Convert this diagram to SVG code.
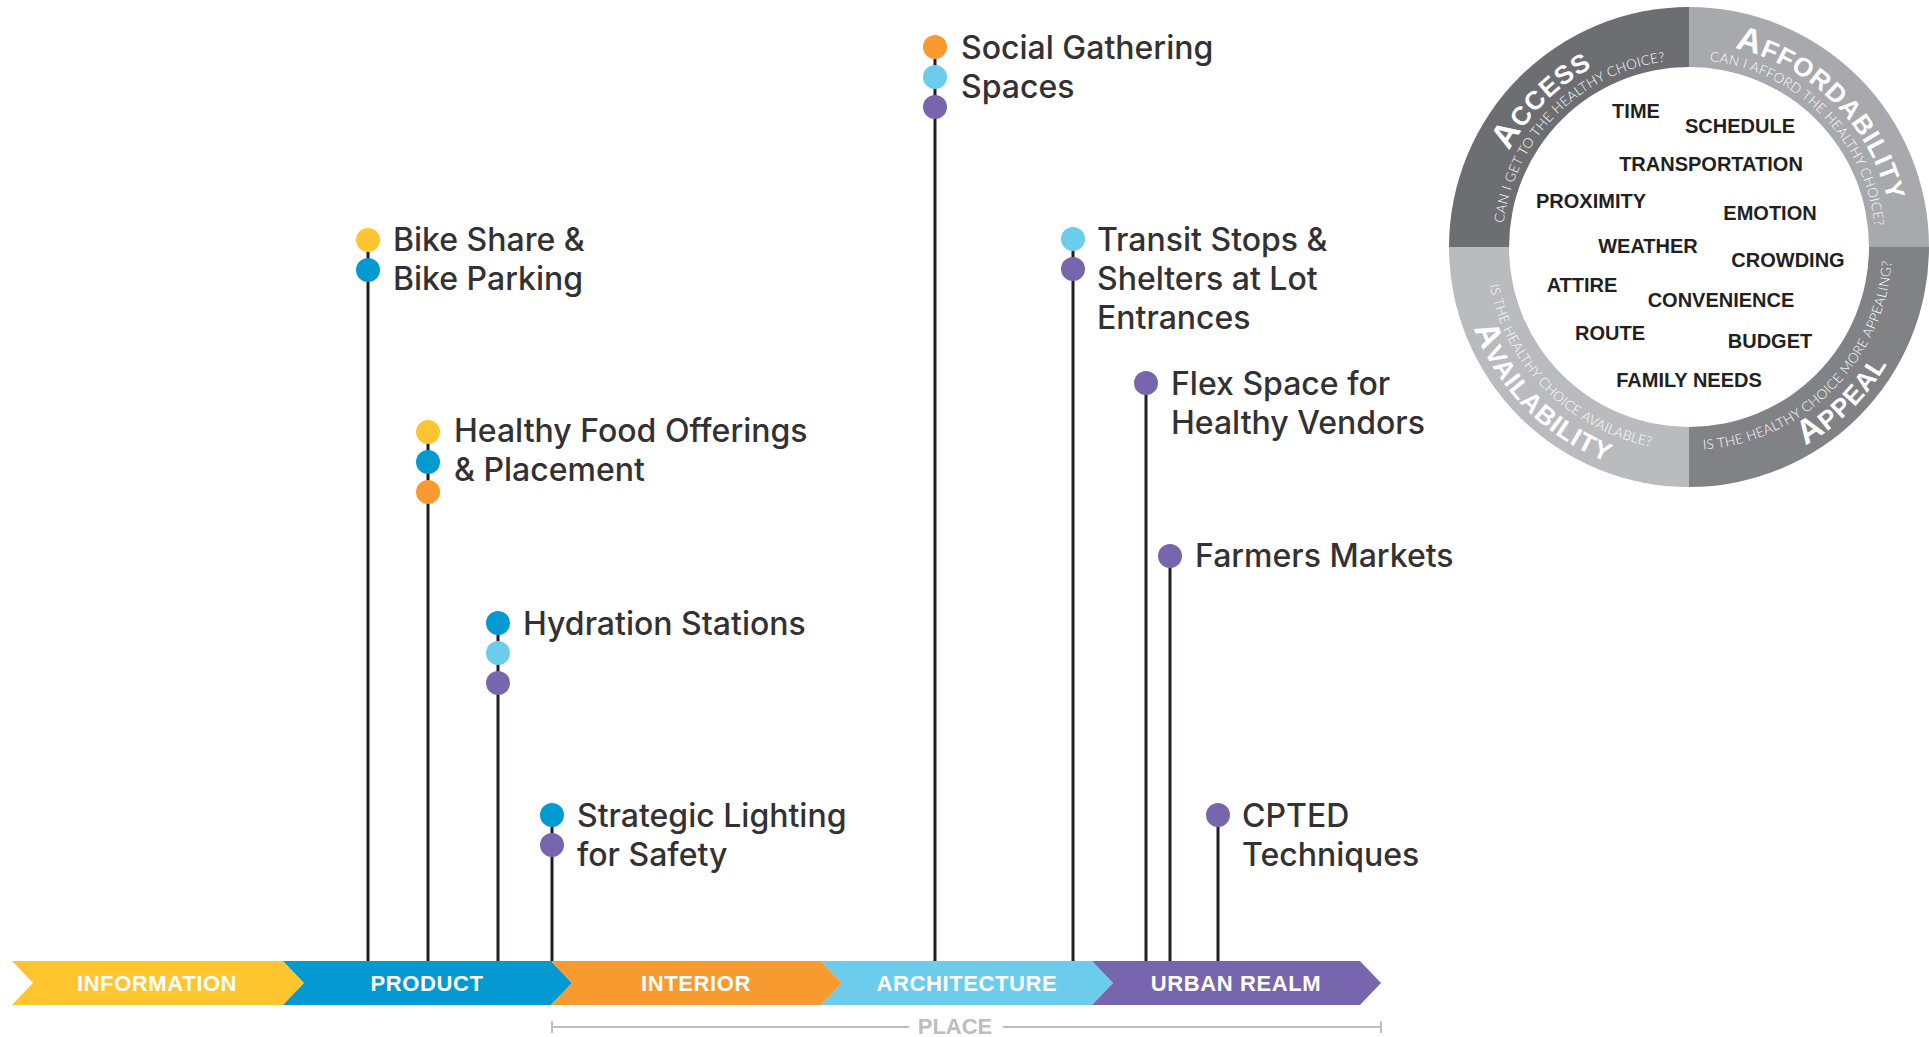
<svg xmlns="http://www.w3.org/2000/svg" width="1929" height="1037" viewBox="0 0 1929 1037">
<style>
.lbl{font-family:Inter,"Noto Sans","Liberation Sans",sans-serif;font-weight:500;font-size:32px;fill:#333132}
.stem{stroke:#231f20;stroke-width:3;fill:none}
.y{fill:#fdc52f}.b{fill:#0399d1}.o{fill:#f79a2f}.c{fill:#6bcdeb}.p{fill:#7766ad}
.rib{font-family:"Liberation Sans",Arial,sans-serif;font-weight:bold;font-size:22px;fill:#ffffff;text-anchor:middle;letter-spacing:0.6px}
.word{font-family:"Liberation Sans",Arial,sans-serif;font-weight:bold;font-size:20px;fill:#231f20;text-anchor:middle}
.big{font-family:"Liberation Sans",Arial,sans-serif;font-weight:bold;fill:#ffffff;font-size:26px;letter-spacing:1px}
.big .cap{font-size:34px}
.sub{font-family:Lato,"Liberation Sans",Arial,sans-serif;font-weight:300;font-size:13.5px;fill:#ffffff;letter-spacing:0.3px}
</style>
<defs>
<path id="tAccS" d="M1502,247 A187,187 0 0 1 1689,60"/>
<path id="tAffS" d="M1689,60 A187,187 0 0 1 1876,247"/>
<path id="tAccB" d="M1485,247 A204,204 0 0 1 1689,43"/>
<path id="tAffB" d="M1689,43 A204,204 0 0 1 1893,247"/>
<path id="tAvaS" d="M1486,247 A203,203 0 0 0 1689,450"/>
<path id="tAppS" d="M1689,450 A203,203 0 0 0 1892,247"/>
<path id="tAvaB" d="M1459,247 A230,230 0 0 0 1689,477"/>
<path id="tAppB" d="M1689,477 A230,230 0 0 0 1919,247"/>
</defs>
<rect width="1929" height="1037" fill="#ffffff"/>

<g id="connectors">
<line class="stem" x1="368" y1="240" x2="368" y2="962"/>
<line class="stem" x1="428" y1="432" x2="428" y2="962"/>
<line class="stem" x1="498" y1="623" x2="498" y2="962"/>
<line class="stem" x1="552" y1="815" x2="552" y2="962"/>
<line class="stem" x1="935" y1="47" x2="935" y2="962"/>
<line class="stem" x1="1073" y1="239" x2="1073" y2="962"/>
<line class="stem" x1="1146" y1="383" x2="1146" y2="962"/>
<line class="stem" x1="1170" y1="556" x2="1170" y2="962"/>
<line class="stem" x1="1218" y1="815" x2="1218" y2="962"/>
</g>

<g id="ribbon">
<g id="seg-information"><polygon points="12,961 283,961 304,983 283,1005 12,1005 33,983" fill="#fec52e"/><text class="rib" x="157" y="991">INFORMATION</text></g>
<g id="seg-product"><polygon points="283,961 551,961 572,983 551,1005 283,1005 304,983" fill="#049ad1"/><text class="rib" x="427" y="991">PRODUCT</text></g>
<g id="seg-interior"><polygon points="551,961 821,961 842,983 821,1005 551,1005 572,983" fill="#f79a2f"/><text class="rib" x="696" y="991">INTERIOR</text></g>
<g id="seg-architecture"><polygon points="821,961 1092,961 1113,983 1092,1005 821,1005 842,983" fill="#6bcdeb"/><text class="rib" x="967" y="991">ARCHITECTURE</text></g>
<g id="seg-urban"><polygon points="1092,961 1360,961 1381,983 1360,1005 1092,1005 1113,983" fill="#7766ad"/><text class="rib" x="1236" y="991">URBAN REALM</text></g>
</g>

<g id="place">
<path d="M552,1021 V1033 M552,1027 H909 M1003,1027 H1381 M1381,1021 V1033" stroke="#bcbec0" stroke-width="2" fill="none"/>
<text x="955" y="1034" font-family="Liberation Sans, Arial, sans-serif" font-weight="bold" font-size="22" fill="#bcbec0" text-anchor="middle">PLACE</text>
</g>

<g id="n-bike"><circle class="y" cx="368" cy="240" r="12"/><circle class="b" cx="368" cy="270" r="12"/>
<text class="lbl" x="393" y="251">Bike Share &amp;</text><text class="lbl" x="393" y="290">Bike Parking</text></g>
<g id="n-food"><circle class="y" cx="428" cy="432" r="12"/><circle class="b" cx="428" cy="462" r="12"/><circle class="o" cx="428" cy="492" r="12"/>
<text class="lbl" x="454" y="442">Healthy Food Offerings</text><text class="lbl" x="454" y="481">&amp; Placement</text></g>
<g id="n-hydration"><circle class="b" cx="498" cy="623" r="12"/><circle class="c" cx="498" cy="653" r="12"/><circle class="p" cx="498" cy="683" r="12"/>
<text class="lbl" x="523" y="635">Hydration Stations</text></g>
<g id="n-lighting"><circle class="b" cx="552" cy="815" r="12"/><circle class="p" cx="552" cy="845" r="12"/>
<text class="lbl" x="577" y="827">Strategic Lighting</text><text class="lbl" x="577" y="866">for Safety</text></g>
<g id="n-social"><circle class="o" cx="935" cy="47" r="12"/><circle class="c" cx="935" cy="77" r="12"/><circle class="p" cx="935" cy="107" r="12"/>
<text class="lbl" x="961" y="59">Social Gathering</text><text class="lbl" x="961" y="98">Spaces</text></g>
<g id="n-transit"><circle class="c" cx="1073" cy="239" r="12"/><circle class="p" cx="1073" cy="269" r="12"/>
<text class="lbl" x="1097" y="251">Transit Stops &amp;</text><text class="lbl" x="1097" y="290">Shelters at Lot</text><text class="lbl" x="1097" y="329">Entrances</text></g>
<g id="n-flex"><circle class="p" cx="1146" cy="383" r="12"/>
<text class="lbl" x="1171" y="395">Flex Space for</text><text class="lbl" x="1171" y="434">Healthy Vendors</text></g>
<g id="n-farmers"><circle class="p" cx="1170" cy="556" r="12"/>
<text class="lbl" x="1195" y="567">Farmers Markets</text></g>
<g id="n-cpted"><circle class="p" cx="1218" cy="815" r="12"/>
<text class="lbl" x="1242" y="827">CPTED</text><text class="lbl" x="1242" y="866">Techniques</text></g>

<g id="wheel">
<path d="M1449,247 A240,240 0 0 1 1689,7 L1689,67 A180,180 0 0 0 1509,247 Z" fill="#6d6e71"/>
<path d="M1689,7 A240,240 0 0 1 1929,247 L1869,247 A180,180 0 0 0 1689,67 Z" fill="#a7a9ac"/>
<path d="M1929,247 A240,240 0 0 1 1689,487 L1689,427 A180,180 0 0 0 1869,247 Z" fill="#808285"/>
<path d="M1689,487 A240,240 0 0 1 1449,247 L1509,247 A180,180 0 0 0 1689,427 Z" fill="#b9bbbe"/>
<text class="big"><textPath href="#tAccB" startOffset="50%" text-anchor="middle"><tspan class="cap">A</tspan>CCESS</textPath></text>
<text class="sub"><textPath href="#tAccS" startOffset="50%" text-anchor="middle">CAN I GET TO THE HEALTHY CHOICE?</textPath></text>
<text class="big"><textPath href="#tAffB" startOffset="50%" text-anchor="middle"><tspan class="cap">A</tspan>FFORDABILITY</textPath></text>
<text class="sub"><textPath href="#tAffS" startOffset="50%" text-anchor="middle">CAN I AFFORD THE HEALTHY CHOICE?</textPath></text>
<text class="big"><textPath href="#tAvaB" startOffset="50%" text-anchor="middle"><tspan class="cap">A</tspan>VAILABILITY</textPath></text>
<text class="sub"><textPath href="#tAvaS" startOffset="50%" text-anchor="middle">IS THE HEALTHY CHOICE AVAILABLE?</textPath></text>
<text class="big"><textPath href="#tAppB" startOffset="50%" text-anchor="middle"><tspan class="cap">A</tspan>PPEAL</textPath></text>
<text class="sub"><textPath href="#tAppS" startOffset="50%" text-anchor="middle">IS THE HEALTHY CHOICE MORE APPEALING?</textPath></text>
<text class="word" x="1636" y="118">TIME</text>
<text class="word" x="1740" y="133">SCHEDULE</text>
<text class="word" x="1711" y="171">TRANSPORTATION</text>
<text class="word" x="1591" y="208">PROXIMITY</text>
<text class="word" x="1770" y="220">EMOTION</text>
<text class="word" x="1648" y="253">WEATHER</text>
<text class="word" x="1788" y="267">CROWDING</text>
<text class="word" x="1582" y="292">ATTIRE</text>
<text class="word" x="1721" y="307">CONVENIENCE</text>
<text class="word" x="1610" y="340">ROUTE</text>
<text class="word" x="1770" y="348">BUDGET</text>
<text class="word" x="1689" y="387">FAMILY NEEDS</text>
</g>
</svg>
